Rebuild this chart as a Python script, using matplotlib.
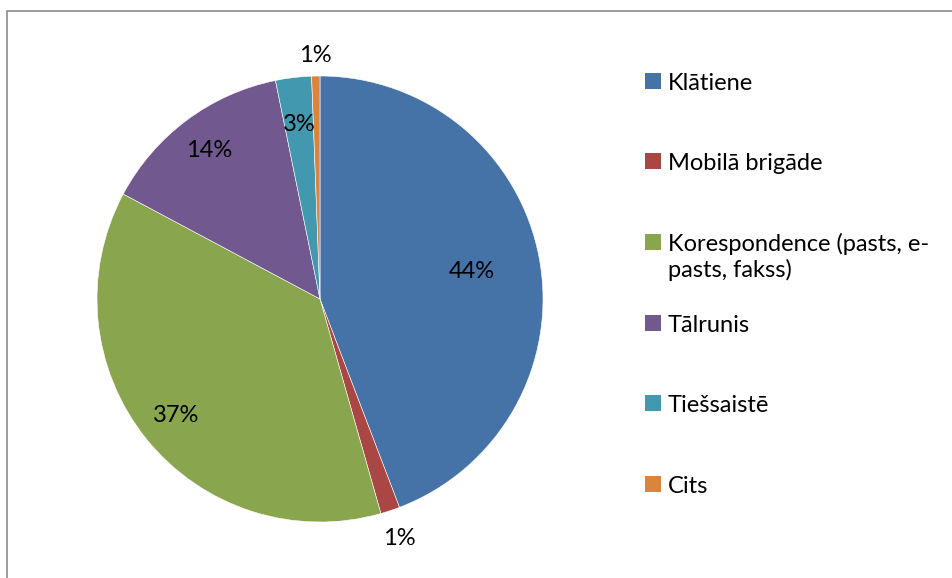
import numpy as np
import matplotlib
matplotlib.use('Agg')
import matplotlib.pyplot as plt
from matplotlib.patches import Rectangle

labels = ['Klātiene', 'Mobilā brigāde', 'Korespondence (pasts, e-\npasts, fakss)',
          'Tālrunis', 'Tiešsaistē', 'Cits']
shares = [44.2, 1.4, 37.2, 14.0, 2.6, 0.6]
colors = ['#4572A7', '#AA4643', '#89A54E', '#71588F', '#4198AF', '#DB843D']
label_r = [0.69, 1.13, 0.83, 0.83, 0.79, 1.09]  # radial position of % labels

plt.rcParams['font.family'] = ['Lato', 'DejaVu Sans']
FS = 17

W, H = 952, 578
fig = plt.figure(figsize=(W / 100, H / 100), dpi=100)

# outer chart frame
fig.patches.append(Rectangle((7 / W, -0.1), 1.1, (H - 11) / H + 0.1, transform=fig.transFigure,
                             fill=False, edgecolor='#8c8c8c', lw=1.2))

cx, cy, r = 320, 299, 223
ax = fig.add_axes([(cx - r) / W, (H - cy - r) / H, 2 * r / W, 2 * r / H])
wedges, _ = ax.pie(shares, colors=colors, startangle=90, counterclock=False, radius=1,
                   wedgeprops=dict(edgecolor='white', linewidth=0.4))
ax.set_xlim(-1, 1)
ax.set_ylim(-1, 1)
ax.set_aspect('equal')
ax.axis('off')

for w, v, lr in zip(wedges, shares, label_r):
    mid = np.deg2rad((w.theta1 + w.theta2) / 2)
    ax.text(lr * np.cos(mid), lr * np.sin(mid), f'{v:.0f}%', ha='center', va='center',
            fontsize=FS, color='black')

# legend: square key + text, wrapped lines drawn one under another
ys = [81, 161, 242, 323, 403, 484]
for lab, c, y in zip(labels, colors, ys):
    fig.patches.append(Rectangle((645 / W, (H - y - 8) / H), 16 / W, 16 / H,
                                 transform=fig.transFigure, facecolor=c, edgecolor='none'))
    for i, line in enumerate(lab.split('\n')):
        fig.text(668 / W, (H - y - 9 - 26 * i) / H, line, ha='left', va='baseline',
                 fontsize=FS, color='black')

fig.savefig('out.png', dpi=100)
